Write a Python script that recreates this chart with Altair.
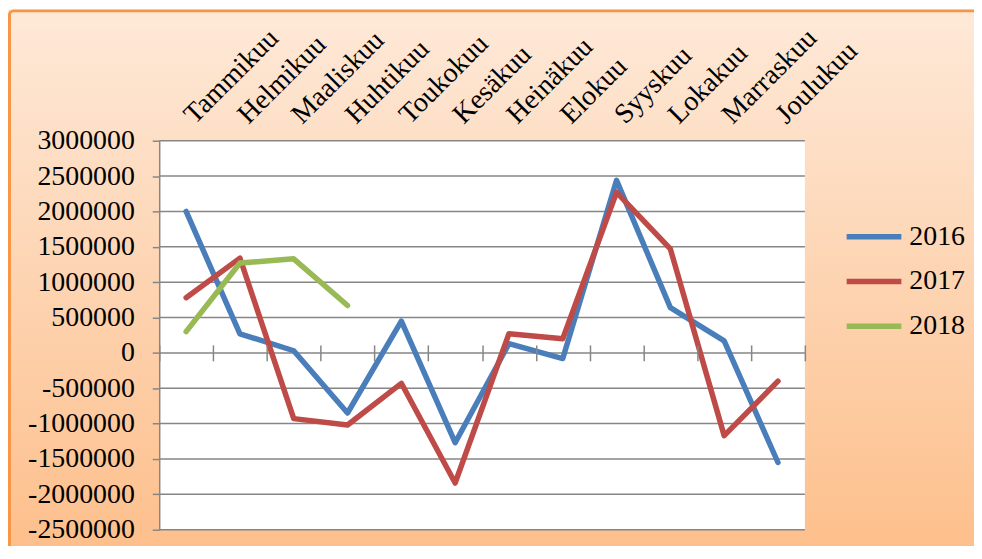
import altair as alt
import pandas as pd

months = ["Tammikuu", "Helmikuu", "Maaliskuu", "Huhtikuu", "Toukokuu", "Kesäkuu",
          "Heinäkuu", "Elokuu", "Syyskuu", "Lokakuu", "Marraskuu", "Joulukuu"]
years = ["2016", "2017", "2018"]
v2016 = [2000000, 270000, 30000, -850000, 450000, -1270000, 130000, -80000, 2440000, 640000, 170000, -1550000]
v2017 = [780000, 1340000, -930000, -1020000, -430000, -1840000, 270000, 200000, 2270000, 1470000, -1170000, -400000]
v2018 = [300000, 1270000, 1330000, 670000, None, None, None, None, None, None, None, None]
colors = ["#4a7ebb", "#be4b48", "#98b954"]
yticks = [-2500000, -2000000, -1500000, -1000000, -500000, 0, 500000, 1000000,
          1500000, 2000000, 2500000, 3000000]

rows = []
for yr, vals in zip(years, [v2016, v2017, v2018]):
    for m, v in zip(months, vals):
        if v is not None:
            rows.append({"month": m, "year": yr, "value": v})
df = pd.DataFrame(rows)
grid_df = pd.DataFrame({"v": yticks})
one = pd.DataFrame({"a": [0]})

W, H = 649, 391
PL, PT, PR, PB = 152, 132, 170, 15
FONT = "Liberation Serif"
GRAY = "#868686"

yscale = alt.Scale(domain=[-2500000, 3000000], nice=False, zero=False)
xscale = alt.Scale(type="band", domain=months, paddingInner=0, paddingOuter=0)

bg = alt.Chart(one).mark_rect(
    fill=alt.LinearGradient(
        gradient="linear",
        stops=[alt.GradientStop(color="#fee9d8", offset=0),
               alt.GradientStop(color="#fdd4b2", offset=0.5),
               alt.GradientStop(color="#fdbf8b", offset=1)],
        x1=0, x2=0, y1=0, y2=1)
).encode(x=alt.value(-PL), x2=alt.value(W + PR + 10), y=alt.value(-PT), y2=alt.value(H + PB + 10))

frame = alt.Chart(one).mark_rect(
    fillOpacity=0, stroke="#f79646", strokeWidth=3, cornerRadius=4
).encode(x=alt.value(-PL + 1.5), x2=alt.value(W + PR + 20), y=alt.value(-PT + 1.5), y2=alt.value(H + PB + 20))

plotbg = alt.Chart(one).mark_rect(fill="white").encode(
    x=alt.value(0), x2=alt.value(W), y=alt.value(0), y2=alt.value(H))

grid = alt.Chart(grid_df).mark_rule(color=GRAY, strokeWidth=1.5).encode(
    y=alt.Y("v:Q", scale=yscale, axis=None),
    x=alt.value(0), x2=alt.value(W))

zero_px = H * 3000000 / 5500000
ticks = alt.Chart(df).mark_point(opacity=0).encode(
    x=alt.X("month:N", sort=months, scale=xscale,
            axis=alt.Axis(orient="bottom", offset=-(H - zero_px + 8), tickBand="extent",
                          domain=False, labels=False, grid=False, tickSize=16,
                          tickColor=GRAY, tickWidth=1.5, title=None, zindex=1)),
    y=alt.Y("value:Q", scale=yscale, axis=None))

lines = alt.Chart(df).mark_line(strokeWidth=5.5, strokeCap="round", strokeJoin="round").encode(
    x=alt.X("month:N", sort=months, scale=xscale, bandPosition=0.5,
            axis=alt.Axis(orient="top", labelAngle=315, labelAlign="left", labelBaseline="middle",
                          domain=False, ticks=False, grid=False, labelPadding=22, labelOffset=3,
                          labelFont=FONT, labelFontSize=28, labelColor="black",
                          title=None, zindex=1)),
    y=alt.Y("value:Q", scale=yscale,
            axis=alt.Axis(orient="left", values=yticks, labelExpr="toString(datum.value)", grid=False,
                          domainColor=GRAY, domainWidth=1.5, tickColor=GRAY, tickWidth=1.5,
                          tickSize=7, labelPadding=18, labelFont=FONT, labelFontSize=28,
                          labelColor="black", title=None, zindex=1)),
    color=alt.Color("year:N", scale=alt.Scale(domain=years, range=colors),
                    legend=alt.Legend(orient="none", legendX=688, legendY=66, title=None,
                                      symbolType="stroke", symbolSize=3025, symbolStrokeWidth=5.5,
                                      labelFont=FONT, labelFontSize=28, labelColor="black",
                                      labelOffset=5, rowPadding=-8, zindex=1)),
    detail="year:N")

chart = alt.layer(bg, frame, plotbg, grid, ticks, lines).resolve_axis(
    x="independent", y="independent"
).properties(
    width=W, height=H,
    padding={"left": PL, "top": PT, "right": PR, "bottom": PB},
    autosize=alt.AutoSizeParams(type="none"),
).configure_view(stroke=None)

chart.save("out.html", embed_options={"renderer": "svg", "actions": False})
